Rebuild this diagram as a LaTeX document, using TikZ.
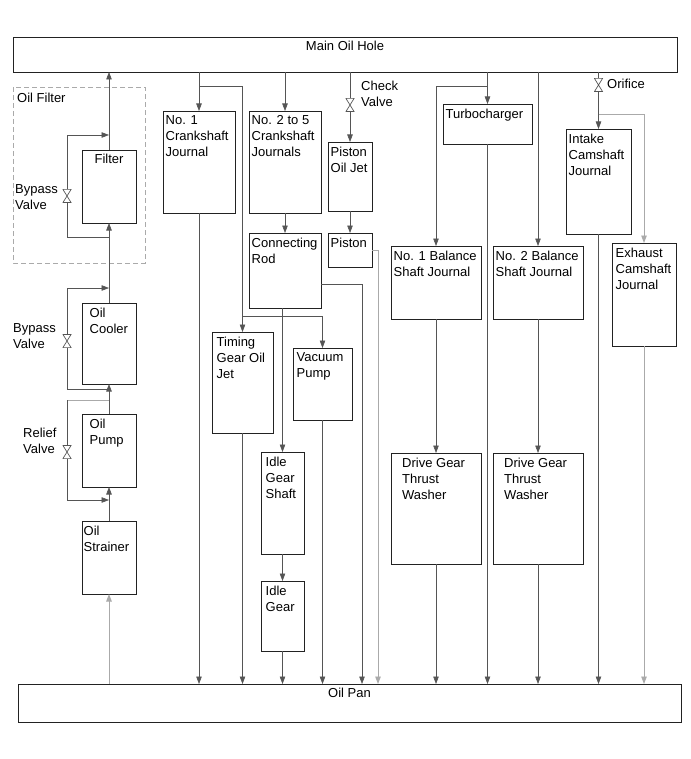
\documentclass[tikz,border=0pt]{standalone}
\usepackage{fontspec}
\setmainfont{Liberation Sans}
\usetikzlibrary{arrows.meta}
\definecolor{linecol}{HTML}{555555}
\definecolor{palecol}{HTML}{AAAAAA}
\definecolor{boxcol}{HTML}{222222}
\newcommand{\dfont}{\fontsize{13}{16}\selectfont}

\begin{document}
\begin{tikzpicture}[x=1pt,y=-1pt,
  unit/.style 2 args={draw=boxcol,line width=0.9pt,minimum width=#1pt,minimum height=#2pt,anchor=north west,inner sep=0pt,outer sep=0pt},
  txt/.style={anchor=north west,align=left,inner xsep=2.5pt,inner ysep=4.5pt,font=\dfont},
  ttl/.style={anchor=north,inner ysep=3.5pt,font=\dfont},
  note/.style={anchor=north west,align=left,inner sep=0pt,font=\dfont},
  flow/.style={draw=linecol,line width=0.6pt},
  arr/.style={flow,-{Triangle[length=7.5pt,width=5.5pt]}},
  pale/.style={draw=palecol,line width=0.9pt},
  valve/.style={inner sep=0pt,minimum width=9pt,minimum height=14pt,
    path picture={\draw[linecol,line width=0.7pt]
      ([xshift=0.4pt,yshift=-0.4pt]path picture bounding box.north west) --
      ([xshift=-0.4pt,yshift=-0.4pt]path picture bounding box.north east) --
      ([xshift=0.4pt,yshift=0.4pt]path picture bounding box.south west) --
      ([xshift=-0.4pt,yshift=0.4pt]path picture bounding box.south east) -- cycle;}}
]
\useasboundingbox (0,0) rectangle (690,759);

% main gallery and oil pan
\node[unit={664}{35},label={[ttl]north:Main Oil Hole}] (main) at (13,37) {};
\node[unit={663}{38},label={[ttl]north:Oil Pan}] (pan) at (18,684) {};

% left column
\draw[draw=palecol,line width=0.8pt,dash pattern=on 5pt off 3pt] (13,87) rectangle (145,263);
\node[note] (oflbl) at (17,93) {Oil Filter};
\node[unit={54}{73},label={[ttl]north:Filter}] (filter) at (82,150) {};
\node[unit={54}{81},label={[txt,xshift=5pt]north west:{Oil\\Cooler}}] (cooler) at (82,303) {};
\node[unit={54}{73},label={[txt,xshift=5pt]north west:{Oil\\Pump}}] (pump) at (82,414) {};
\node[unit={54}{73},label={[txt,xshift=-1pt]north west:{Oil\\Strainer}}] (strainer) at (82,521) {};

\node[valve] (bv1) at (67,196) {};
\node[valve] (bv2) at (67,341) {};
\node[valve] (rv) at (67,452) {};
\node[note] (bv1lbl) at (15,184) {Bypass\\Valve};
\node[note] (bv2lbl) at (13,323) {Bypass\\Valve};
\node[note] (rvlbl) at (23,428) {Relief\\Valve};

\coordinate (fb) at (109,237);
\coordinate (ft) at (109,135);
\coordinate (cb) at (109,389);
\coordinate (ct) at (109,288);
\coordinate (rt) at (109,400);
\coordinate (rb) at (109,500);

\draw[arr] (filter.north) -- (filter.north |- main.south);
\draw[flow] (fb) -| (bv1.south);
\draw[arr] (bv1.north) |- (ft);
\draw[arr] (cooler.north) -- (filter.south);
\draw[flow] (cb) -| (bv2.south);
\draw[arr] (bv2.north) |- (ct);
\draw[arr] (pump.north) -- (cooler.south);
\draw[pale] (rt) -- (rt -| rv);
\draw[flow] (rt -| rv) -- (rv.north);
\draw[arr] (rv.south) |- (rb);
\draw[arr] (strainer.north) -- (pump.south);
\draw[arr,pale] (strainer.south |- pan.north) -- (strainer.south);

% crankshaft side
\node[unit={72}{102},label={[txt]north west:{No. 1\\Crankshaft\\Journal}}] (crank1) at (163,111) {};
\node[unit={72}{102},label={[txt]north west:{No. 2 to 5\\Crankshaft\\Journals}}] (crank25) at (249,111) {};
\node[unit={72}{75},label={[txt]north west:{Connecting\\Rod}}] (conrod) at (249,233) {};
\node[unit={44}{69},label={[txt]north west:{Piston\\Oil Jet}}] (pjet) at (328,142) {};
\node[unit={44}{34},label={[txt]north west:{Piston}}] (piston) at (328,233) {};
\node[unit={61}{101},label={[txt,xshift=2pt]north west:{Timing\\Gear Oil\\Jet}}] (timing) at (212,332) {};
\node[unit={59}{72},label={[txt,xshift=1pt]north west:{Vacuum\\Pump}}] (vacuum) at (293,348) {};
\node[unit={43}{102},label={[txt,xshift=2pt]north west:{Idle\\Gear\\Shaft}}] (idleshaft) at (261,452) {};
\node[unit={43}{70},label={[txt,xshift=2pt]north west:{Idle\\Gear}}] (idlegear) at (261,581) {};

\node[valve] (cv) at (350,105) {};
\node[note] (cvlbl) at (361,81) {Check\\Valve};

\coordinate (j1) at (199,86);
\coordinate (j2) at (242.5,316);
\coordinate (k1) at (362,284);
\coordinate (k2) at (378,250);

\draw[arr] (main.south -| crank1.north) -- (crank1.north);
\draw[flow] (j1) -| (j2);
\draw[flow] (j2) -- (j2 -| vacuum.north);
\draw[arr] (j2) -- (timing.north);
\draw[arr] (j2 -| idleshaft.north) -- (idleshaft.north);
\draw[arr] (j2 -| vacuum.north) -- (vacuum.north);
\draw[flow] (conrod.south -| idleshaft.north) -- (j2 -| idleshaft.north);
\draw[arr] (main.south -| crank25.north) -- (crank25.north);
\draw[arr] (crank25.south) -- (conrod.north);
\draw[arr] (conrod.east |- k1) -| (k1 |- pan.north);
\draw[flow] (main.south -| pjet.north) -- (cv.north);
\draw[arr] (cv.south) -- (pjet.north);
\draw[arr] (pjet.south) -- (piston.north);
\draw[arr,pale] (piston.east |- k2) -| (k2 |- pan.north);
\draw[arr] (idleshaft.south) -- (idlegear.north);

% turbo, balance shafts, camshafts
\node[unit={89}{40},label={[txt]north west:Turbocharger}] (turbo) at (443,104) {};
\node[unit={90}{73},label={[txt]north west:{No. 1 Balance\\Shaft Journal}}] (bal1) at (391,246) {};
\node[unit={90}{73},label={[txt]north west:{No. 2 Balance\\Shaft Journal}}] (bal2) at (493,246) {};
\node[unit={90}{111},label={[txt,xshift=8.5pt]north west:{Drive Gear\\Thrust\\Washer}}] (washer1) at (391,453) {};
\node[unit={90}{111},label={[txt,xshift=8.5pt]north west:{Drive Gear\\Thrust\\Washer}}] (washer2) at (493,453) {};
\node[unit={65}{105},label={[txt]north west:{Intake\\Camshaft\\Journal}}] (intake) at (566,129) {};
\node[unit={64}{103},label={[txt,xshift=1pt]north west:{Exhaust\\Camshaft\\Journal}}] (exhaust) at (612,243) {};

\node[valve] (ov) at (598.5,85) {};
\node[note] (ovlbl) at (607,79) {Orifice};

\coordinate (j3) at (487.5,86);
\coordinate (j4) at (598.5,114);

\draw[arr] (main.south -| turbo.north) -- (turbo.north);
\draw[arr] (j3) -| (bal1.north);
\draw[arr] (bal1.south) -- (washer1.north);
\draw[arr] (main.south -| bal2.north) -- (bal2.north);
\draw[arr] (bal2.south) -- (washer2.north);
\draw[flow] (main.south -| intake.north) -- (ov.north);
\draw[arr] (ov.south) -- (intake.north);
\draw[arr,pale] (j4) -| (exhaust.north);
\draw[arr,pale] (exhaust.south) -- (exhaust.south |- pan.north);

\foreach \n in {crank1,timing,idlegear,vacuum,turbo,washer1,washer2,intake}
  \draw[arr] (\n.south) -- (\n.south |- pan.north);
\end{tikzpicture}
\end{document}
